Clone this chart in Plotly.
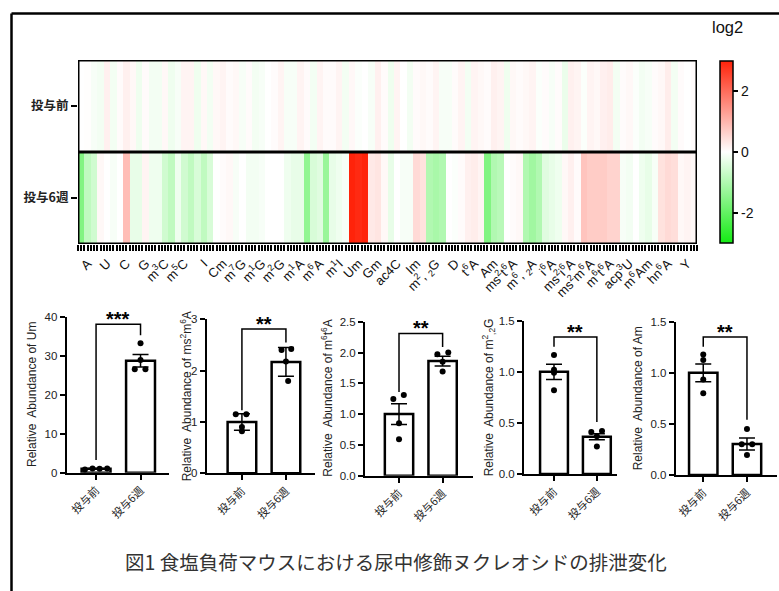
import plotly.graph_objects as go

W, H = 779, 591

# ---------------- heatmap data ----------------
mod_labels = ["A", "U", "C", "G", "m<sup>3</sup>C", "m<sup>5</sup>C", "I", "Cm",
              "m<sup>7</sup>G", "m<sup>1</sup>G", "m<sup>2</sup>G", "m<sup>1</sup>A",
              "m<sup>6</sup>A", "m<sup>1</sup>I", "Um", "Gm", "ac4C", "Im",
              "m<sup>2</sup>, <sub>2</sub>G", "D", "t<sup>6</sup>A", "Am",
              "ms<sup>2</sup>t<sup>6</sup>A", "m<sup>6</sup>, <sub>2</sub>A", "i<sup>6</sup>A",
              "ms<sup>2</sup>i<sup>6</sup>A", "ms<sup>2</sup>m<sup>6</sup>A",
              "m<sup>6</sup>t<sup>6</sup>A", "acp<sup>3</sup>U", "m<sup>6</sup>Am",
              "hn<sup>6</sup>A", "Y"]
row_labels = ["投与前", "投与6週"]
sub_per_mod = 3

log2_before = [0.0, 0.02, -0.1, -0.15, 0.2, -0.15, 0.05, 0.2, 0.1, -0.2, 0.05, -0.15,
               -0.15, 0.1, -0.2, -0.1, 0.15, 0.15, -0.2, 0.1, -0.15, 0.1, 0.15, 0.05,
               0.1, -0.1, 0.05, -0.15, -0.1, 0.0, 0.05, 0.15, -0.1, -0.1, 0.15, 0.05,
               -0.15, 0.15, 0.05, 0.05, 0.15, -0.15, 0.1, -0.05, 0.0, -0.1, 0.2, 0.05,
               -0.2, 0.15, 0.0, -0.15, 0.05, 0.1, 0.05, 0.15, -0.1, -0.1, 0.05, 0.15,
               -0.15, 0.15, 0.1, 0.05, 0.2, 0.15, -0.2, 0.1, 0.05, 0.1, 0.15, -0.05,
               0.05, -0.1, 0.05, -0.25, 0.2, 0.15, -0.05, 0.15, 0.1, 0.2, 0.25, -0.15,
               0.05, 0.1, -0.05, -0.15, -0.1, 0.05, 0.1, 0.25, -0.15, 0.05, 0.0, 0.05]
log2_after = [-1.6, -0.8, -0.6, 0.1, 0.0, -0.1, 0.0, 0.9, -0.3, -0.3, 0.15, -0.2,
              -0.2, -0.6, -0.8, -0.2, -0.6, -0.8, -0.5, -0.8, -0.5, 0.0, 0.05, 0.1,
              -0.1, 0.0, -0.15, -0.15, -0.1, 0.0, 0.0, 0.0, -0.2, -0.3, -0.3, -1.4,
              -0.5, -0.4, -1.3, -0.3, -0.2, -0.1, 3.0, 2.9, 3.0, 0.3, 0.35, 0.1,
              -0.3, 0.0, -0.1, -0.1, 0.5, 0.4, -1.0, -1.1, -1.0, 0.0, -0.05, 0.05,
              0.2, 0.25, 0.15, -1.6, -1.0, -0.9, 0.0, 0.05, 0.1, -1.0, -1.2, -1.0,
              -0.4, -0.3, -0.2, 0.1, 0.2, 0.05, 0.8, 0.7, 0.7, 0.7, 0.6, 0.6,
              -0.1, -0.15, 0.0, -0.2, -0.3, -0.1, 0.4, 0.5, 0.45, 0.1, 0.15, 0.1]
cbar_ticks = [-2, 0, 2]
cbar_title = "log2"

# ---------------- bar chart data ----------------
groups = ["投与前", "投与6週"]
panel_titles = ["Relative  Abundance of Um",
                "Relative  Abundance of ms<sup>2</sup>m<sup>6</sup>A",
                "Relative  Abundance of m<sup>6</sup>t<sup>6</sup>A",
                "Relative  Abundance of m<sup>2</sup><sub>,2</sub>G",
                "Relative  Abundance of Am"]
bar_means = [[1.0, 28.8], [1.0, 2.17], [1.0, 1.86], [1.0, 0.365], [1.0, 0.303]]
bar_sems = [[0.08, 1.6], [0.16, 0.28], [0.17, 0.08], [0.075, 0.03], [0.087, 0.058]]
pts_before = [[0.8, 1.1, 1.0, 1.1], [1.15, 1.15, 0.82, 0.9], [1.245, 1.31, 0.85, 0.59],
              [1.164, 1.02, 0.82, 0.99], [1.18, 1.125, 0.935, 0.80]]
pts_after = [[33.3, 29.0, 26.6, 26.6], [2.40, 2.42, 2.18, 1.80], [1.97, 2.0, 1.69, 1.85],
             [0.41, 0.42, 0.37, 0.27], [0.45, 0.30, 0.30, 0.196]]
jit_before = [[-0.25, -0.08, 0.08, 0.25], [-0.14, 0.1, 0.0, 0.0], [-0.13, 0.11, 0.0, 0.0],
              [0.0, 0.0, 0.0, 0.0], [0.0, 0.0, 0.0, 0.0]]
jit_after = [[0.0, 0.0, -0.13, 0.11], [-0.1, 0.12, 0.0, 0.05], [-0.12, 0.13, 0.0, 0.0],
             [-0.13, 0.12, 0.0, 0.0], [0.0, -0.12, 0.12, 0.0]]
y_max = [40, 3, 2.5, 1.5, 1.5]
y_ticks = [[0, 10, 20, 30, 40], [0, 1, 2, 3], [0, 0.5, 1.0, 1.5, 2.0, 2.5],
           [0, 0.5, 1.0, 1.5], [0, 0.5, 1.0, 1.5]]
y_ticktext = [["0", "10", "20", "30", "40"], ["0", "1", "2", "3"],
              ["0.0", "0.5", "1.0", "1.5", "2.0", "2.5"],
              ["0.0", "0.5", "1.0", "1.5"], ["0.0", "0.5", "1.0", "1.5"]]
# bracket: (bracket level, left leg end, right leg end)
brackets = [(38.2, 3.3, 35.4), (2.81, 1.23, 2.55), (2.31, 1.36, 2.09),
            (1.34, 1.245, 0.51), (1.35, 1.255, 0.54)]
stars = ["***", "**", "**", "**", "**"]
caption = "図1 食塩負荷マウスにおける尿中修飾ヌクレオシドの排泄変化"

# ---------------- layout geometry (pixels) ----------------
def px(x):
    return x / W

def py(y):
    return 1 - y / H

# panels: x-axis left px, x-axis right px, top px, bottom px, x range
panels = [
    (66.7, 169, 317.3, 472.7, (-0.66, 1.64)),
    (206.7, 315, 319.3, 473.3, (-0.80, 1.66)),
    (365, 472.7, 321.7, 475.7, (-0.78, 1.69)),
    (524, 617, 320.7, 474, (-0.70, 1.47)),
    (675.7, 776.7, 321.7, 475, (-0.63, 1.68)),
]
title_x = [32, 186, 327, 489, 638]

LAT = "Liberation Sans, Arial, Noto Sans CJK JP"
CJK = "Noto Sans CJK JP"

fig = go.Figure()

# heatmap
n = len(mod_labels)
xs = [k + (j + 0.5) / sub_per_mod for k in range(n) for j in range(sub_per_mod)]
fig.add_trace(go.Heatmap(
    z=[log2_before, log2_after], x=xs, y=[0, 1],
    zmin=-3, zmax=3,
    colorscale=[[0, "rgb(20,235,20)"], [0.5, "rgb(255,255,255)"], [1, "rgb(255,35,10)"]],
    xaxis="x", yaxis="y",
    colorbar=dict(
        x=px(720), xanchor="left", xpad=0, y=py(152), yanchor="middle", ypad=0,
        thickness=13, thicknessmode="pixels",
        len=(243 - 61) / H, lenmode="fraction",
        outlinewidth=1.5, outlinecolor="black",
        ticks="outside", ticklen=5, tickwidth=1.5, tickcolor="black",
        tickvals=cbar_ticks, ticktext=[str(t) for t in cbar_ticks],
        tickfont=dict(size=14, color="#111", family=LAT),
    ),
    hoverinfo="skip",
))

layout_axes = {}
layout_axes["xaxis"] = dict(
    domain=[px(78), px(697)], range=[0, n], anchor="y", automargin=False,
    tickvals=[k + 0.5 for k in range(n)], ticktext=mod_labels, tickangle=-45,
    ticks="outside", ticklen=6, tickwidth=1.5, tickcolor="black",
    minor=dict(ticks="outside", ticklen=6, tickwidth=1.5, tickcolor="black",
               dtick=1 / 6, tick0=0),
    tickfont=dict(size=13, color="#111", family=LAT),
    showgrid=False, zeroline=False, showline=False,
)
layout_axes["yaxis"] = dict(
    domain=[py(244), py(60)], range=[1.5, -0.5], anchor="x", automargin=False,
    tickvals=[0, 1], ticktext=["<b>%s</b>" % r for r in row_labels],
    ticks="outside", ticklen=6, tickwidth=2, tickcolor="black",
    tickfont=dict(size=12.5, color="#222", family=CJK),
    showgrid=False, zeroline=False, showline=False,
)

shapes = [
    dict(type="rect", xref="x", yref="y", x0=0, x1=n, y0=-0.5, y1=1.5,
         line=dict(color="black", width=3)),
    dict(type="line", xref="x", yref="y", x0=0, x1=n, y0=0.5, y1=0.5,
         line=dict(color="black", width=3)),
    # outer frame
    dict(type="line", xref="paper", yref="paper", x0=px(11.5), x1=1.0,
         y0=py(13.5), y1=py(13.5), line=dict(color="black", width=2.5)),
    dict(type="line", xref="paper", yref="paper", x0=px(11.5), x1=px(11.5),
         y0=py(13.5), y1=0, line=dict(color="black", width=2.5)),
]
annotations = [dict(x=px(727), y=py(27), xref="paper", yref="paper", text=cbar_title,
                    showarrow=False, xanchor="center", yanchor="middle",
                    font=dict(size=16.5, color="#111", family=LAT))]

for i, (xl, xr, yt, yb, xrng) in enumerate(panels):
    ax = i + 2
    xa, ya = f"x{ax}", f"y{ax}"
    fig.add_trace(go.Bar(
        x=[0, 1], y=bar_means[i], width=0.65,
        marker=dict(color="white", line=dict(color="black", width=2.5)),
        error_y=dict(type="data", array=bar_sems[i], symmetric=True,
                     color="black", thickness=1.5, width=8),
        xaxis=xa, yaxis=ya, hoverinfo="skip",
    ))
    xp = [0 + j for j in jit_before[i]] + [1 + j for j in jit_after[i]]
    yp = pts_before[i] + pts_after[i]
    fig.add_trace(go.Scatter(
        x=xp, y=yp, mode="markers",
        marker=dict(color="black", size=6),
        xaxis=xa, yaxis=ya, hoverinfo="skip", cliponaxis=False,
    ))
    layout_axes[f"xaxis{ax}"] = dict(
        domain=[px(xl), px(xr)], range=list(xrng), anchor=ya, automargin=False,
        tickvals=[0, 1], ticktext=groups, tickangle=-45,
        ticks="outside", ticklen=5, tickwidth=2, tickcolor="black",
        tickfont=dict(size=11, color="#222", family=CJK),
        showline=True, linewidth=2, linecolor="black",
        showgrid=False, zeroline=False,
    )
    layout_axes[f"yaxis{ax}"] = dict(
        domain=[py(yb), py(yt)], range=[0, y_max[i]], anchor=xa, automargin=False,
        tickvals=y_ticks[i], ticktext=y_ticktext[i],
        ticks="outside", ticklen=5, tickwidth=2, tickcolor="black",
        tickfont=dict(size=11.5, color="#222", family=LAT),
        showline=True, linewidth=2, linecolor="black",
        showgrid=False, zeroline=False,
    )
    lvl, le, re = brackets[i]
    shapes.append(dict(type="path", xref=xa, yref=ya,
                       path=f"M 0,{le} L 0,{lvl} L 1,{lvl} L 1,{re}",
                       line=dict(color="black", width=1.5)))
    annotations.append(dict(x=0.5, y=lvl, xref=xa, yref=ya, text=f"<b>{stars[i]}</b>",
                            showarrow=False, yanchor="middle", yshift=5,
                            font=dict(size=20, color="black", family=LAT)))
    annotations.append(dict(x=px(title_x[i]), y=py((yt + yb) / 2), xref="paper", yref="paper",
                            text=panel_titles[i], textangle=-90, showarrow=False,
                            xanchor="center", yanchor="middle",
                            font=dict(size=12, color="#222", family=LAT)))

annotations.append(dict(x=px(396), y=py(561), xref="paper", yref="paper", text=caption,
                        showarrow=False, xanchor="center", yanchor="middle",
                        font=dict(size=19.5, color="#333", family=CJK)))

fig.update_layout(
    width=W, height=H, margin=dict(l=0, r=0, t=0, b=0, autoexpand=False),
    paper_bgcolor="white", plot_bgcolor="white",
    showlegend=False, shapes=shapes, annotations=annotations,
    font=dict(family=LAT),
    **layout_axes,
)

fig.write_html("out.html", config={"displayModeBar": False},
               post_script="document.body.style.margin='0';")
